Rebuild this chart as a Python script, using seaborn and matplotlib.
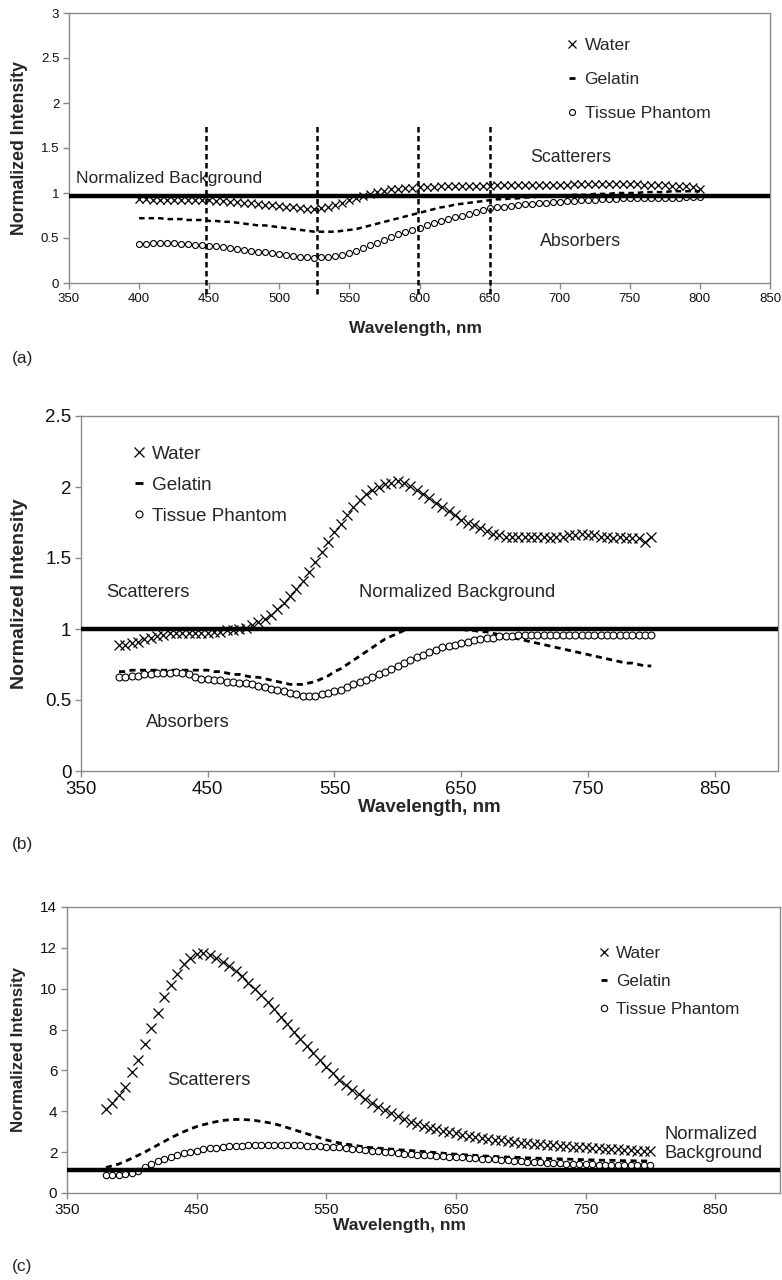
import numpy as np
import pandas as pd
import matplotlib
matplotlib.use("Agg")
import matplotlib.pyplot as plt
from matplotlib.lines import Line2D
from matplotlib.transforms import blended_transform_factory
import seaborn as sns

# ---------------- data ----------------
wl_a = np.arange(400, 801, 5)
a_water = [0.93, 0.93, 0.92, 0.92, 0.92, 0.92, 0.92, 0.92, 0.92, 0.92, 0.92,
           0.91, 0.91, 0.90, 0.90, 0.89, 0.89, 0.88, 0.87, 0.87, 0.86,
           0.85, 0.84, 0.83, 0.82, 0.82, 0.83, 0.85, 0.87, 0.89, 0.92,
           0.95, 0.97, 0.99, 1.01, 1.02, 1.04, 1.05, 1.06, 1.06, 1.07,
           1.07, 1.07, 1.08, 1.08, 1.08, 1.08, 1.08, 1.08, 1.08, 1.08,
           1.09, 1.09, 1.09, 1.09, 1.09, 1.09, 1.09, 1.09, 1.09, 1.09,
           1.09, 1.10, 1.10, 1.10, 1.10, 1.10, 1.10, 1.10, 1.10, 1.10,
           1.10, 1.09, 1.09, 1.09, 1.09, 1.08, 1.08, 1.08, 1.07, 1.05]
a_gelatin = [0.72, 0.72, 0.72, 0.72, 0.71, 0.71, 0.71, 0.70, 0.70, 0.70, 0.69,
             0.69, 0.68, 0.68, 0.67, 0.66, 0.65, 0.64, 0.64, 0.63, 0.62,
             0.61, 0.60, 0.59, 0.58, 0.57, 0.57, 0.57, 0.57, 0.58, 0.59,
             0.60, 0.62, 0.64, 0.66, 0.68, 0.70, 0.72, 0.74, 0.76, 0.78,
             0.80, 0.82, 0.84, 0.85, 0.87, 0.88, 0.89, 0.90, 0.91, 0.92,
             0.93, 0.93, 0.94, 0.94, 0.95, 0.95, 0.96, 0.96, 0.97, 0.97,
             0.97, 0.98, 0.98, 0.98, 0.99, 0.99, 0.99, 1.00, 1.00, 1.00,
             1.00, 1.01, 1.01, 1.01, 1.01, 1.02, 1.02, 1.02, 1.02, 1.02]
a_tissue = [0.43, 0.43, 0.44, 0.45, 0.45, 0.44, 0.43, 0.43, 0.42, 0.42, 0.41,
            0.41, 0.40, 0.39, 0.38, 0.37, 0.36, 0.35, 0.34, 0.33, 0.32,
            0.31, 0.30, 0.29, 0.29, 0.28, 0.29, 0.29, 0.30, 0.31, 0.33,
            0.36, 0.39, 0.42, 0.45, 0.48, 0.51, 0.54, 0.57, 0.59, 0.61,
            0.64, 0.67, 0.69, 0.71, 0.73, 0.75, 0.77, 0.79, 0.81, 0.83,
            0.84, 0.85, 0.86, 0.87, 0.88, 0.88, 0.89, 0.89, 0.90, 0.90,
            0.91, 0.91, 0.92, 0.92, 0.92, 0.93, 0.93, 0.93, 0.94, 0.94,
            0.94, 0.94, 0.95, 0.95, 0.95, 0.95, 0.95, 0.96, 0.96, 0.96]
a_background = 0.97
a_cutoffs = [448, 527, 599, 650]
a_cutoff_top = 1.78
a_cutoff_bottom = -0.12

wl_bc = np.arange(380, 801, 5)
b_water = [0.89, 0.89, 0.90, 0.91, 0.93, 0.94, 0.95, 0.96, 0.97,
           0.97, 0.97, 0.97, 0.97, 0.97, 0.97, 0.98, 0.98, 0.99, 0.99,
           1.00, 1.01, 1.03, 1.05, 1.07, 1.10, 1.14, 1.18, 1.23, 1.28,
           1.34, 1.40, 1.47, 1.54, 1.61, 1.68, 1.74, 1.80, 1.86, 1.91,
           1.95, 1.98, 2.00, 2.02, 2.03, 2.04, 2.03, 2.01, 1.98, 1.95,
           1.92, 1.89, 1.86, 1.83, 1.80, 1.77, 1.75, 1.73, 1.71, 1.69,
           1.67, 1.66, 1.65, 1.65, 1.65, 1.65, 1.65, 1.65, 1.65, 1.64,
           1.65, 1.65, 1.66, 1.66, 1.67, 1.66, 1.66, 1.65, 1.65, 1.64,
           1.65, 1.64, 1.64, 1.64, 1.61, 1.65]
b_gelatin = [0.70, 0.70, 0.71, 0.71, 0.71, 0.71, 0.71, 0.71, 0.71,
             0.71, 0.71, 0.71, 0.71, 0.71, 0.71, 0.70, 0.70, 0.69, 0.68,
             0.68, 0.67, 0.66, 0.66, 0.65, 0.64, 0.63, 0.62, 0.61, 0.61,
             0.61, 0.62, 0.63, 0.65, 0.67, 0.70, 0.72, 0.75, 0.78, 0.81,
             0.84, 0.87, 0.90, 0.93, 0.95, 0.97, 0.99, 1.00, 1.00, 1.00,
             1.00, 1.00, 1.00, 1.00, 1.00, 1.00, 0.99, 0.99, 0.98, 0.98,
             0.97, 0.96, 0.95, 0.94, 0.93, 0.92, 0.91, 0.90, 0.89, 0.88,
             0.87, 0.86, 0.85, 0.84, 0.83, 0.82, 0.81, 0.80, 0.79, 0.78,
             0.77, 0.76, 0.76, 0.75, 0.74, 0.74]
b_tissue = [0.66, 0.66, 0.67, 0.67, 0.68, 0.68, 0.69, 0.69, 0.69,
            0.70, 0.69, 0.68, 0.66, 0.65, 0.65, 0.64, 0.64, 0.63, 0.63,
            0.62, 0.62, 0.61, 0.60, 0.59, 0.58, 0.57, 0.56, 0.55, 0.54,
            0.53, 0.53, 0.53, 0.54, 0.55, 0.56, 0.57, 0.59, 0.61, 0.63,
            0.64, 0.66, 0.68, 0.70, 0.72, 0.74, 0.76, 0.78, 0.80, 0.82,
            0.84, 0.85, 0.87, 0.88, 0.89, 0.90, 0.91, 0.92, 0.93, 0.94,
            0.94, 0.95, 0.95, 0.95, 0.96, 0.96, 0.96, 0.96, 0.96, 0.96,
            0.96, 0.96, 0.96, 0.96, 0.96, 0.96, 0.96, 0.96, 0.96, 0.96,
            0.96, 0.96, 0.96, 0.96, 0.96, 0.96]
b_background = 1.0

c_water = [4.1, 4.4, 4.8, 5.2, 5.9, 6.5, 7.3, 8.1, 8.8, 9.6, 10.2, 10.7, 11.2, 11.5, 11.7, 11.75,
           11.65, 11.5, 11.3, 11.1, 10.85, 10.6, 10.3, 10.0, 9.7, 9.35, 9.0, 8.6, 8.25, 7.9, 7.55, 7.2,
           6.85, 6.5, 6.15, 5.85, 5.55, 5.3, 5.05, 4.85, 4.6, 4.4, 4.2, 4.05, 3.9, 3.75, 3.6, 3.5,
           3.4, 3.3, 3.2, 3.12, 3.05, 2.98, 2.92, 2.85, 2.8, 2.75, 2.7, 2.65, 2.6, 2.57, 2.53, 2.5,
           2.47, 2.44, 2.41, 2.38, 2.36, 2.33, 2.31, 2.29, 2.27, 2.25, 2.23, 2.21, 2.19, 2.17, 2.15, 2.13,
           2.11, 2.09, 2.07, 2.05, 2.04]
c_gelatin = [1.25, 1.33, 1.42, 1.55, 1.7, 1.85, 2.0, 2.18, 2.35, 2.52, 2.7, 2.85, 3.0, 3.13, 3.25, 3.34,
             3.42, 3.49, 3.55, 3.58, 3.6, 3.6, 3.58, 3.55, 3.5, 3.45, 3.38, 3.3, 3.2, 3.1, 3.0, 2.9,
             2.8, 2.7, 2.6, 2.52, 2.45, 2.4, 2.35, 2.3, 2.25, 2.22, 2.2, 2.17, 2.15, 2.12, 2.1, 2.08,
             2.05, 2.03, 2.0, 1.98, 1.95, 1.92, 1.9, 1.88, 1.86, 1.84, 1.82, 1.8, 1.79, 1.77, 1.76, 1.75,
             1.74, 1.72, 1.71, 1.7, 1.69, 1.68, 1.67, 1.66, 1.65, 1.64, 1.63, 1.62, 1.61, 1.6, 1.6, 1.59,
             1.58, 1.58, 1.57, 1.57, 1.56]
c_tissue = [0.9, 0.88, 0.9, 0.92, 0.98, 1.1, 1.25, 1.4, 1.55, 1.68, 1.78, 1.88, 1.95, 2.02, 2.08, 2.13,
            2.18, 2.22, 2.25, 2.28, 2.3, 2.32, 2.34, 2.35, 2.36, 2.37, 2.37, 2.36, 2.35, 2.34, 2.33, 2.32,
            2.31, 2.29, 2.27, 2.25, 2.23, 2.2, 2.17, 2.14, 2.11, 2.08, 2.05, 2.02, 1.99, 1.96, 1.93, 1.9,
            1.88, 1.86, 1.84, 1.82, 1.8, 1.78, 1.76, 1.74, 1.72, 1.7, 1.68, 1.66, 1.64, 1.62, 1.6, 1.58,
            1.56, 1.54, 1.52, 1.5, 1.49, 1.47, 1.46, 1.44, 1.43, 1.42, 1.41, 1.4, 1.39, 1.38, 1.37, 1.37,
            1.36, 1.36, 1.35, 1.35, 1.35]
c_background = 1.12

series_labels = ["Water", "Gelatin", "Tissue Phantom"]

# ---------------- style ----------------
sns.set_theme(style="white")
plt.rcParams["font.family"] = ["Liberation Sans", "DejaVu Sans"]
GREY = "#8a8a8a"

W, H = 782, 1280
fig = plt.figure(figsize=(W / 100, H / 100), dpi=100)


def px_axes(left, top, right, bottom):
    return fig.add_axes([left / W, 1 - bottom / H, (right - left) / W, (bottom - top) / H])


axA = px_axes(69, 13, 770, 283)
axB = px_axes(81, 416, 778, 771)
axC = px_axes(67, 907, 780, 1193)


def draw(ax, wl, water, gel, tis, bg, ms_x, ms_o, gel_lw):
    sns.lineplot(x=wl, y=water, ax=ax, color="black", marker="x", linestyle="none",
                 markersize=ms_x, markeredgewidth=0.9, markeredgecolor="black",
                 estimator=None, legend=False, zorder=4)
    sns.lineplot(x=wl, y=gel, ax=ax, color="black", linestyle=(0, (2.2, 1.6)),
                 linewidth=gel_lw, estimator=None, legend=False, zorder=3)
    sns.lineplot(x=wl, y=tis, ax=ax, color="black", marker="o", linestyle="none",
                 markersize=ms_o, markerfacecolor="white", markeredgecolor="black",
                 markeredgewidth=0.8, estimator=None, legend=False, zorder=3)
    ax.axhline(bg, color="black", lw=3.2, zorder=5)


def style(ax, xlim, xticks, ylim, yticks, tick_fs, xlab_fs, ylab_fs, ylab_x, xlab_x=0.5):
    ax.set_xlim(*xlim)
    ax.set_ylim(*ylim)
    ax.set_xticks(xticks)
    ax.set_yticks(yticks)
    ax.set_yticklabels([f"{t:g}" for t in yticks])
    for s in ax.spines.values():
        s.set_color(GREY)
        s.set_linewidth(1.0)
    ax.tick_params(axis="both", which="both", direction="out", length=4, width=1,
                   color=GREY, labelsize=tick_fs, labelcolor="#111111", pad=3,
                   bottom=True, left=True)
    ax.set_xlabel("Wavelength, nm", fontsize=xlab_fs, fontweight="bold")
    ax.xaxis.label.set_x(xlab_x)
    ax.set_ylabel("Normalized Intensity", fontsize=ylab_fs, fontweight="bold", va="center")
    ax.yaxis.set_label_coords(ylab_x, 0.5,
                              transform=blended_transform_factory(fig.transFigure, ax.transAxes))


def legend(ax, x, y, fs, spacing, ms_x, ms_o):
    handles = [
        Line2D([], [], color="black", marker="x", linestyle="none", markersize=ms_x, markeredgewidth=0.9),
        Line2D([], [], color="black", marker="_", linestyle="none", markersize=ms_x * 0.8, markeredgewidth=2),
        Line2D([], [], color="black", marker="o", linestyle="none", markersize=ms_o,
               markerfacecolor="white", markeredgewidth=0.8),
    ]
    ax.legend(handles, series_labels, loc="upper left", bbox_to_anchor=(x, y),
              bbox_transform=ax.transData, frameon=False, fontsize=fs, handlelength=0.8,
              handletextpad=0.3, labelspacing=spacing, borderpad=0, borderaxespad=0)


# ---- panel (a)
draw(axA, wl_a, a_water, a_gelatin, a_tissue, a_background, 5.5, 4.3, 1.8)
for xc in a_cutoffs:
    axA.plot([xc, xc], [a_cutoff_bottom, a_cutoff_top], color="black", lw=1.8,
             linestyle=(0, (2.2, 1.4)), clip_on=False, zorder=6)
style(axA, (350, 850), np.arange(350, 851, 50), (0, 3), [0, 0.5, 1, 1.5, 2, 2.5, 3],
      9.5, 12.5, 12.8, 20 / W, 0.494)
axA.xaxis.labelpad = 12
legend(axA, 704, 2.72, 12.6, 1.05, 5.5, 4.3)
axA.text(355, 1.16, "Normalized Background", fontsize=12.6, va="center", ha="left")
axA.text(679, 1.39, "Scatterers", fontsize=12.8, va="center", ha="left")
axA.text(686, 0.46, "Absorbers", fontsize=12.8, va="center", ha="left")
fig.text(12 / W, 1 - 358 / H, "(a)", fontsize=12.5, va="center", ha="left")

# ---- panel (b)
draw(axB, wl_bc, b_water, b_gelatin, b_tissue, b_background, 7, 5, 2.0)
style(axB, (350, 900), np.arange(350, 851, 100), (0, 2.5), [0, 0.5, 1, 1.5, 2, 2.5],
      13.5, 13.5, 14, 20 / W)
axB.xaxis.labelpad = 1
legend(axB, 389.5, 2.29, 13.6, 0.72, 7, 5)
axB.text(370, 1.26, "Scatterers", fontsize=13.2, va="center", ha="left")
axB.text(569, 1.26, "Normalized Background", fontsize=13.2, va="center", ha="left")
axB.text(401, 0.34, "Absorbers", fontsize=13.2, va="center", ha="left")
fig.text(12 / W, 1 - 845 / H, "(b)", fontsize=12.5, va="center", ha="left")

# ---- panel (c)
draw(axC, wl_bc, c_water, c_gelatin, c_tissue, c_background, 7, 4.6, 2.0)
style(axC, (350, 900), np.arange(350, 851, 100), (0, 14), list(range(0, 15, 2)),
      11, 12.5, 12.2, 19 / W, 0.467)
axC.xaxis.labelpad = 1
legend(axC, 759, 12.08, 12.3, 0.75, 6, 4.6)
axC.text(427, 5.53, "Scatterers", fontsize=13.2, va="center", ha="left")
axC.text(811, 2.4, "Normalized\nBackground", fontsize=13.2, va="center", ha="left", linespacing=1.1)
fig.text(12 / W, 1 - 1267 / H, "(c)", fontsize=12.5, va="center", ha="left")

fig.savefig("out.png", dpi=100, facecolor="white")
